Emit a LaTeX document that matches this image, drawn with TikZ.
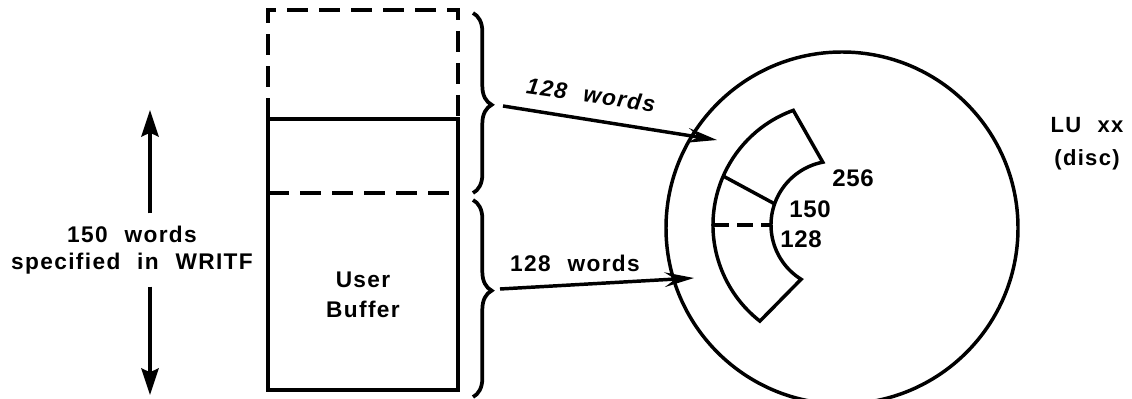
\documentclass[tikz,border=0pt]{standalone}
\usepackage{fontspec}
\setmainfont{Liberation Sans}
\newfontfamily\lab{Liberation Sans}[LetterSpace=6,WordSpace=2.2]
\newfontfamily\numf{Liberation Sans}[LetterSpace=3]
\usetikzlibrary{arrows.meta,calc,decorations.pathreplacing}
\begin{document}
\begin{tikzpicture}[x=0.75pt,y=-0.75pt, line width=2.6pt,
  txt/.style={font=\lab\bfseries\fontsize{17pt}{20.5pt}\selectfont, align=center, inner sep=0pt},
  numtxt/.style={font=\numf\bfseries\fontsize{18pt}{20pt}\selectfont, inner sep=0pt},
  bigarrow/.style={-{Stealth[length=22pt,width=11pt,inset=8pt]}, line width=2.6pt},
  dimarrow/.style={-{Stealth[length=20pt,width=13pt,inset=3pt]}, line width=2.4pt},
  dashline/.style={dash pattern=on 16pt off 8pt},
  bracestyle/.style={decorate, decoration={brace, amplitude=14pt, aspect=#1}, line width=2.8pt},
]
\useasboundingbox (0,0) rectangle (1132,399);

% user buffer
\node (buf) [draw, minimum width=142.5pt, minimum height=203.25pt, inner sep=0pt, outer sep=0pt] at (363,254.5) {};
\draw[dashline] (buf.north west) -- ++(0,-109) -- ++(190,0) -- (buf.north east);
\draw[dashline] ($(buf.north west)+(0,74)$) -- ($(buf.north east)+(0,74)$);
\node[txt, font=\lab\bfseries\fontsize{17pt}{22.5pt}\selectfont] (ub) at (363,295) {User\\Buffer};

% braces
\draw[bracestyle=0.51] (473,13) -- (473,193);
\draw[bracestyle=0.46] (473,200) -- (473,397);

% left dimension
\node[txt, minimum height=52.5pt] (lbl) at (132,250) {150 words\\specified in WRITF};
\coordinate (dtop) at (150,110);
\coordinate (dbot) at (150,395);
\draw[dimarrow] (lbl.north -| dtop) -- (dtop);
\draw[dimarrow] (lbl.south -| dbot) -- (dbot);

% disc
\node (disc) [circle, draw, minimum size=264pt, inner sep=0pt] at (842,228) {};
\coordinate (c) at (835,225);
\draw ($(c)+(-110:122)$) arc[start angle=-110, end angle=-232, radius=122]
  -- ($(c)+(-238:64)$) arc[start angle=-238, end angle=-101, radius=64] -- cycle;
\draw ($(c)+(-156.4:121)$) -- ($(c)+(-160.7:64)$);
\draw[dash pattern=on 12pt off 6pt] ($(c)+(180:122)$) -- ($(c)+(180:64)$);

\node[numtxt] (n256) at (853,178) {256};
\node[numtxt] (n150) at (810,209) {150};
\node[numtxt] (n128) at (801,239) {128};

\node[txt, font=\lab\bfseries\fontsize{16.5pt}{24.75pt}\selectfont] (lu) at (1087,144) {LU xx\\(disc)};

% arrows
\coordinate (b1) at (503,106);
\coordinate (d1) at (717,140);
\coordinate (b2) at (500,289);
\coordinate (d2) at (694,278);
\draw[bigarrow] (b1) -- (d1);
\draw[bigarrow] (b2) -- (d2);
\node[txt, font=\lab\bfseries\itshape\fontsize{17pt}{20.5pt}\selectfont, rotate=-8] (w1) at (591,95) {128 words};
\node[txt] (w2) at (575,263) {128 words};
\end{tikzpicture}
\end{document}
